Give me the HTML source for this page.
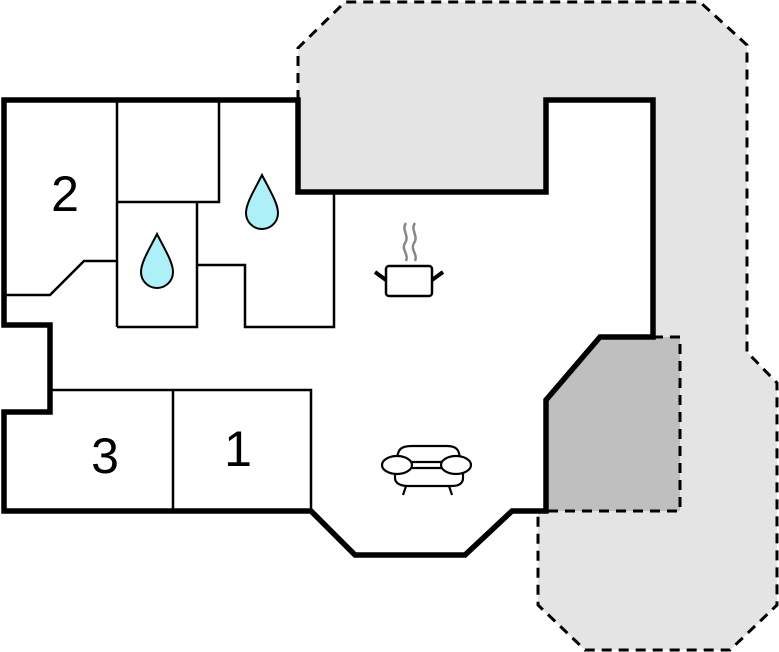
<!DOCTYPE html>
<html><head><meta charset="utf-8"><style>html,body{margin:0;padding:0;background:#fff}svg{display:block}</style></head>
<body>
<svg width="779" height="652" viewBox="0 0 779 652" xmlns="http://www.w3.org/2000/svg">
<polygon points="298,48 345,2 700,2 747,45 747,352 777,383 777,605 730,650 585,650 538,605 538,512 546,512 546,192 298,192" fill="#e4e4e4"/>
<polyline points="298,100 298,48 345,2 700,2 747,45 747,352 777,383 777,605 730,650 585,650 538,605 538,512" fill="none" stroke="#000" stroke-width="3" stroke-dasharray="10,7"/>
<polygon points="600,337 680,337 680,511 546,511 546,400" fill="#bfbfbf"/>
<polyline points="653,337 680,337 680,511 546,511" fill="none" stroke="#000" stroke-width="3" stroke-dasharray="10,7"/>
<polygon points="4,100 298,100 298,192 546,192 546,100 653,100 653,337 600,337 546,400 546,511 512,511 465,555 355,555 311,511 4,511 4,412 50,412 50,325 4,325" fill="#fff" stroke="#000" stroke-width="5.5" stroke-linejoin="miter"/>
<g fill="none" stroke="#000" stroke-width="2.5">
<line x1="117" y1="100" x2="117" y2="327"/>
<polyline points="219,100 219,202 117,202"/>
<polyline points="197,202 197,327 117,327"/>
<polyline points="197,265 245,265 245,327 334,327 334,192"/>
<polyline points="4,295 50,295 84,261 117,261"/>
<polyline points="50,390 311,390 311,511"/>
<line x1="173" y1="390" x2="173" y2="511"/>
</g>
<g font-family="Liberation Sans, sans-serif" font-size="50" fill="#000" text-anchor="middle">
<text x="65" y="211">2</text>
<text x="105" y="473">3</text>
<text x="238" y="466">1</text>
</g>
<g fill="#aef0f8" stroke="#000" stroke-width="2">
<path d="M157,234 C150,248 141,262 141,272 A16,16 0 0 0 173,272 C173,262 164,248 157,234 Z"/>
<path d="M262,175 C255,189 246,203 246,213 A16,16 0 0 0 278,213 C278,203 269,189 262,175 Z"/>
</g>
<g fill="none" stroke="#888" stroke-width="2.5">
<path d="M406,223 C401,230 410,236 405,243 C401,250 409,254 406,261"/>
<path d="M415,223 C410,230 419,236 414,243 C410,250 418,254 415,261"/>
</g>
<rect x="386" y="266" width="46" height="30" rx="3" fill="#fff" stroke="#000" stroke-width="2.5"/>
<line x1="375" y1="272" x2="386" y2="280" stroke="#000" stroke-width="4"/>
<line x1="443" y1="272" x2="432" y2="280" stroke="#000" stroke-width="4"/>
<g fill="#fff" stroke="#000" stroke-width="2.2">
<path d="M397,462 C397,448 402,446 412,446 L447,446 C457,446 460,450 460,462 Z"/>
<path d="M395,468 L395,478 C395,484 402,486 408,486 L452,486 C458,486 463,484 463,478 L463,468 Z"/>
<ellipse cx="397" cy="465" rx="15" ry="9"/>
<ellipse cx="456" cy="465" rx="15" ry="9"/>
<line x1="406" y1="486" x2="403" y2="495"/>
<line x1="449" y1="486" x2="452" y2="495"/>
</g>
</svg>
</body></html>
